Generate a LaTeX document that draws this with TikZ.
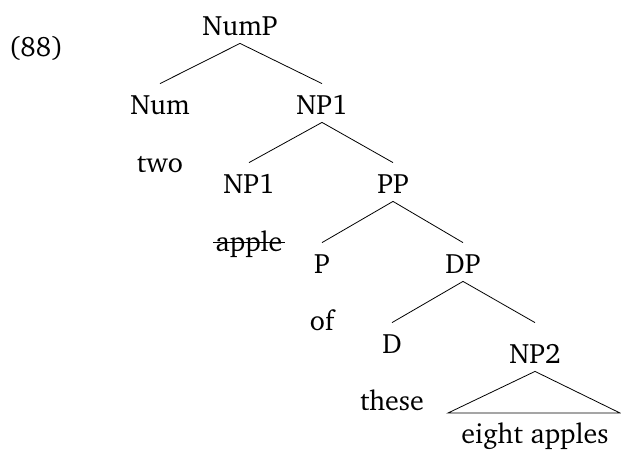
\documentclass[tikz,border=0pt]{standalone}
\usepackage[T1]{fontenc}
\usepackage{charter}
\tikzset{lbl/.style={anchor=base,inner sep=2pt,text height=28pt,text depth=6pt}}

\begin{document}
\begin{tikzpicture}[x=1pt,y=-1pt,line width=.8pt,font=\fontsize{28}{33}\selectfont]
\useasboundingbox (0,0) rectangle (621,450);
\node[lbl] (ex) at (36,56) {(88)};

\node[lbl] (nump) at (240,35) {NumP};
\node[lbl] (num) at (160,114) {Num};
\node[lbl] (npa) at (322,114) {NP1};
\node[lbl] (two) at (160,172) {two};
\node[lbl] (npb) at (249,193) {NP1};
\node[lbl] (pp) at (393,193) {PP};
\node[lbl] (apple) at (249,251) {apple};
\node[lbl] (p) at (322,273) {P};
\node[lbl] (dp) at (463,273) {DP};
\node[lbl] (of) at (322,330) {of};
\node[lbl] (d) at (392,353) {D};
\node[lbl] (np2) at (535,363) {NP2};
\node[lbl] (these) at (392,410) {these};
\node[lbl] (eight) at (535,443) {eight apples};
\coordinate (tl) at (448,413);
\coordinate (tr) at (620,413);

% strike through the deleted copy
\draw ([yshift=9pt]apple.base west) -- ([yshift=9pt]apple.base east);

\draw (nump.south) -- (num.north);
\draw (nump.south) -- (npa.north);
\draw (npa.south) -- (npb.north);
\draw (npa.south) -- (pp.north);
\draw (pp.south) -- (p.north);
\draw (pp.south) -- (dp.north);
\draw (dp.south) -- (d.north);
\draw (dp.south) -- ([yshift=10pt]np2.north);
\draw (np2.south) -- (tl) -- (tr) -- cycle;
\end{tikzpicture}
\end{document}
